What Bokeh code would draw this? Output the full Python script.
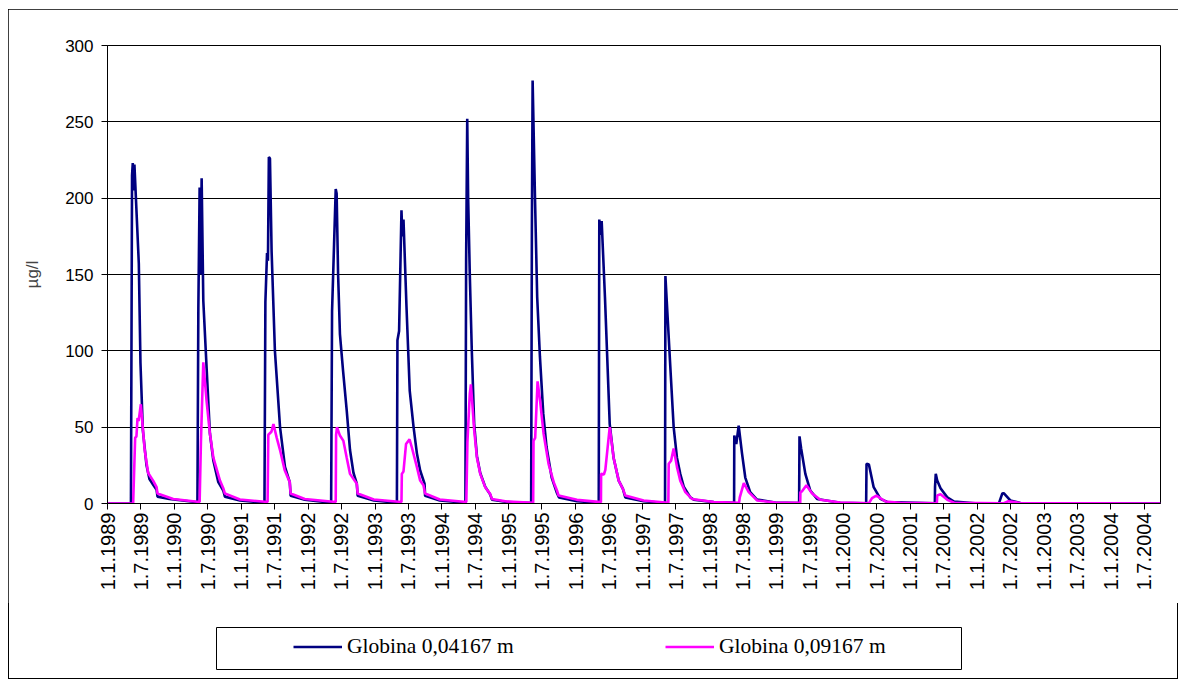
import pandas as pd
from bokeh.plotting import figure
from bokeh.layouts import column
from bokeh.models import FixedTicker, Legend, LegendItem, Range1d, ColumnDataSource
from bokeh.embed import file_html
from bokeh.resources import INLINE

# ---------------- data ----------------
tick_labels = ["1.1.1989", "1.7.1989", "1.1.1990", "1.7.1990", "1.1.1991", "1.7.1991",
               "1.1.1992", "1.7.1992", "1.1.1993", "1.7.1993", "1.1.1994", "1.7.1994",
               "1.1.1995", "1.7.1995", "1.1.1996", "1.7.1996", "1.1.1997", "1.7.1997",
               "1.1.1998", "1.7.1998", "1.1.1999", "1.7.1999", "1.1.2000", "1.7.2000",
               "1.1.2001", "1.7.2001", "1.1.2002", "1.7.2002", "1.1.2003", "1.7.2003",
               "1.1.2004", "1.7.2004"]
y_ticks = [0, 50, 100, 150, 200, 250, 300]
x_start = "1989-01-01"
x_end = "2004-09-28"

blue_dates = [
    "1989-01-01", "1989-05-09", "1989-05-15", "1989-05-19", "1989-05-23", "1989-05-28", "1989-06-21",
    "1989-06-30", "1989-07-13", "1989-08-02", "1989-08-18", "1989-09-09", "1989-09-26", "1989-10-01",
    "1989-12-05",
    "1990-05-07", "1990-05-12", "1990-05-19", "1990-05-24", "1990-05-30", "1990-06-08", "1990-06-26",
    "1990-07-14", "1990-08-02", "1990-08-29", "1990-09-25", "1990-10-04", "1990-12-25",
    "1991-05-08", "1991-05-13", "1991-05-22", "1991-05-27", "1991-06-01", "1991-06-07", "1991-06-16",
    "1991-07-04", "1991-08-01", "1991-08-28", "1991-09-23", "1991-09-28", "1991-12-14",
    "1992-05-06", "1992-05-11", "1992-05-22", "1992-05-31", "1992-06-05", "1992-06-13", "1992-06-23",
    "1992-07-10", "1992-07-30", "1992-08-17", "1992-09-05", "1992-09-23", "1992-09-28", "1992-12-25",
    "1993-04-30", "1993-05-03", "1993-05-12", "1993-05-25", "1993-05-30", "1993-06-05", "1993-06-21",
    "1993-07-09", "1993-07-30", "1993-08-17", "1993-09-04", "1993-09-28", "1993-10-01", "1993-12-20",
    "1994-05-09", "1994-05-13", "1994-05-19", "1994-05-24", "1994-06-02", "1994-06-13", "1994-06-26",
    "1994-07-11", "1994-07-29", "1994-08-25", "1994-09-21", "1994-10-01", "1994-12-21",
    "1995-05-03", "1995-05-07", "1995-05-11", "1995-05-24", "1995-06-05", "1995-06-20", "1995-07-08",
    "1995-07-26", "1995-08-23", "1995-09-19", "1995-10-02",
    "1996-01-08", "1996-05-06", "1996-05-09", "1996-05-16", "1996-05-22", "1996-06-09", "1996-06-20",
    "1996-07-05", "1996-07-26", "1996-08-23", "1996-09-15", "1996-09-28",
    "1997-01-06", "1997-05-03", "1997-05-05", "1997-05-18", "1997-06-01", "1997-06-19", "1997-07-07",
    "1997-07-25", "1997-08-13", "1997-09-18", "1997-10-07",
    "1998-01-24", "1998-05-15", "1998-05-16", "1998-05-27", "1998-06-09", "1998-06-27", "1998-07-15",
    "1998-08-11", "1998-09-17", "1998-12-25",
    "1999-05-05", "1999-05-07", "1999-05-16", "1999-06-08", "1999-07-05", "1999-08-11", "1999-12-15",
    "2000-05-05", "2000-05-07", "2000-05-20", "2000-06-15", "2000-07-22", "2000-08-28",
    "2001-05-15", "2001-05-16", "2001-05-20", "2001-05-28", "2001-06-15", "2001-07-22", "2001-08-28",
    "2001-12-22",
    "2002-04-30", "2002-05-18", "2002-05-26", "2002-07-01", "2002-08-25",
    "2004-09-28",
]
blue_values = [
    0, 0, 215, 223, 205, 222, 157,
    92, 48, 25, 16, 12, 9, 4.5,
    3,
    0.8, 128, 207, 150, 213, 133, 89,
    46, 28, 14, 8.5, 4.5, 2,
    0.5, 132, 164, 159, 227, 226, 165,
    100, 50, 24, 14, 5, 2.5,
    0.5, 126, 170, 206, 203, 150, 111,
    87, 61, 35, 20, 13, 5, 2,
    0.5, 107, 113, 192, 175, 186, 130,
    74, 50, 33, 21.6, 13, 5, 2,
    0.5, 160, 252, 200, 150, 100, 52,
    31, 20, 11, 6, 2.5, 1,
    0.3, 180, 277, 200, 135, 96, 59,
    37, 17, 7.4, 4,
    1.5, 0.5, 186, 176, 185, 135, 100,
    52, 30, 15, 9.6, 4,
    1.5, 0.3, 149, 120, 89, 50, 30,
    19.4, 11, 4, 2.5,
    0.9, 0.5, 44.5, 39, 51, 33, 17,
    7.4, 2.6, 0.7,
    0.3, 44, 36, 19.4, 8.5, 3, 0.5,
    0.2, 26, 25.5, 10.7, 3, 1,
    0.2, 11, 19.4, 15, 10, 4, 1.3,
    0.2,
    0.2, 6.5, 6.8, 2, 0.3,
    0,
]

magenta_dates = [
    "1989-01-01", "1989-05-21", "1989-06-01", "1989-06-08", "1989-06-14", "1989-06-20", "1989-07-02",
    "1989-07-23", "1989-08-11", "1989-09-07", "1989-09-26", "1989-10-01", "1989-12-26",
    "1990-05-19", "1990-05-26", "1990-06-08", "1990-06-26", "1990-07-14", "1990-08-02", "1990-09-07",
    "1990-09-25", "1990-10-04", "1990-12-25",
    "1991-05-25", "1991-05-29", "1991-06-15", "1991-06-26", "1991-07-14", "1991-08-01", "1991-08-26",
    "1991-09-23", "1991-09-28", "1991-12-14",
    "1992-05-31", "1992-06-02", "1992-06-07", "1992-06-23", "1992-07-12", "1992-07-30", "1992-08-17",
    "1992-09-23", "1992-09-28", "1992-12-25",
    "1993-05-25", "1993-05-27", "1993-06-05", "1993-06-19", "1993-07-08", "1993-07-20", "1993-08-17",
    "1993-09-04", "1993-09-22", "1993-10-01", "1993-12-20",
    "1994-05-14", "1994-05-20", "1994-06-02", "1994-06-08", "1994-06-16", "1994-06-26", "1994-07-11",
    "1994-07-29", "1994-08-25", "1994-09-21", "1994-10-01", "1994-12-21",
    "1995-05-14", "1995-05-16", "1995-05-25", "1995-06-07", "1995-06-21", "1995-07-10", "1995-08-06",
    "1995-09-03", "1995-09-21", "1995-09-30",
    "1996-01-08", "1996-05-18", "1996-05-19", "1996-06-03", "1996-06-11", "1996-07-05", "1996-07-26",
    "1996-08-23", "1996-09-15", "1996-09-28",
    "1997-01-06", "1997-05-21", "1997-05-23", "1997-06-05", "1997-06-19", "1997-07-07", "1997-07-25",
    "1997-08-22", "1997-09-27",
    "1998-01-24", "1998-06-11", "1998-06-15", "1998-07-07", "1998-08-03", "1998-09-17", "1998-12-25",
    "1999-05-11", "1999-05-12", "1999-05-21", "1999-06-14", "1999-07-15", "1999-08-29", "1999-12-15",
    "2000-05-20", "2000-06-06", "2000-06-30", "2000-08-19", "2000-11-07",
    "2001-05-26", "2001-05-28", "2001-06-15", "2001-07-22", "2001-08-28",
    "2002-05-24", "2002-06-20", "2002-08-25",
    "2004-09-28",
]
magenta_values = [
    0, 0, 43, 44, 56, 54, 65,
    35, 20, 15, 10.7, 6.5, 3,
    1, 40, 92.5, 67, 46, 30, 15,
    10, 6.5, 2.6,
    1, 45, 47, 52, 43, 35, 22,
    14, 6.5, 3,
    1, 45, 50, 44.5, 41, 30, 19.4,
    13, 6.5, 2.6,
    1, 19.4, 21, 39, 42, 37, 24,
    15, 12, 6.5, 2.6,
    1, 40, 72, 78, 65, 48, 30,
    19.4, 10.7, 6.3, 3, 1.3,
    0.5, 41, 43, 80, 67, 45.6, 26,
    14, 8.5, 5.2,
    2.4, 0.9, 19.4, 19, 22, 50, 30,
    15, 9.6, 5.2,
    2, 0.5, 26, 28, 36, 24, 15,
    7.4, 3,
    1, 0.5, 4, 13.3, 7.4, 2, 0.7,
    0.4, 7.4, 8, 12, 6.5, 2.5, 0.7,
    0.2, 3.5, 5.2, 1.3, 0.4,
    0.2, 5.2, 6, 2.4, 0.5,
    0.1, 1.5, 0.3,
    0,
]

series_names = ["Globina 0,04167 m", "Globina 0,09167 m"]
series_colors = ["#000080", "#FF00FF"]
y_label = "µg/l"

# ---------------- helpers ----------------
t0 = pd.Timestamp(x_start)
def to_days(dates):
    return [(pd.Timestamp(d) - t0).days for d in dates]

tick_days = [(pd.to_datetime(t, format="%d.%m.%Y") - t0).days for t in tick_labels]

src_b = ColumnDataSource(dict(x=to_days(blue_dates), y=blue_values))
src_m = ColumnDataSource(dict(x=to_days(magenta_dates), y=magenta_values))

BORDER_L, BORDER_R = 99, 18

# ---------------- main chart ----------------
p = figure(width=1170, height=594, output_backend="svg", toolbar_location=None,
           x_range=Range1d(0, (pd.Timestamp(x_end) - t0).days),
           y_range=Range1d(0, 300), align="start")
p.min_border_left = BORDER_L
p.min_border_right = BORDER_R
p.min_border_top = 36
p.min_border_bottom = 100
p.background_fill_color = "white"
p.border_fill_color = "white"
p.outline_line_color = "black"
p.outline_line_width = 1

p.line("x", "y", source=src_b, line_color=series_colors[0], line_width=2.6)
p.line("x", "y", source=src_m, line_color=series_colors[1], line_width=2.6)

xa = p.xaxis[0]
xa.ticker = FixedTicker(ticks=tick_days)
xa.major_label_overrides = {d: lab for d, lab in zip(tick_days, tick_labels)}
xa.major_label_orientation = 3.14159265 / 2
xa.major_label_text_font = "Liberation Sans"
xa.major_label_text_font_size = "20px"
xa.major_label_text_color = "black"
xa.major_label_standoff = 3
xa.major_tick_out = 6
xa.major_tick_in = 0
xa.minor_tick_out = 0
xa.minor_tick_in = 0
xa.axis_line_color = "black"
xa.major_tick_line_color = "black"

ya = p.yaxis[0]
ya.ticker = FixedTicker(ticks=y_ticks)
ya.major_label_text_font = "Liberation Sans"
ya.major_label_text_font_size = "17px"
ya.major_label_text_color = "black"
ya.major_label_standoff = 8
ya.major_tick_out = 6
ya.major_tick_in = 0
ya.minor_tick_out = 0
ya.minor_tick_in = 0
ya.axis_line_color = "black"
ya.major_tick_line_color = "black"
ya.axis_label = y_label
ya.axis_label_text_font = "Liberation Sans"
ya.axis_label_text_font_size = "17px"
ya.axis_label_text_font_style = "normal"
ya.axis_label_standoff = 20

p.xgrid.grid_line_color = None
p.ygrid.grid_line_color = "black"
p.ygrid.grid_line_width = 1

# ---------------- legend box ----------------
# The column aligns the frames of its plots, so the legend plot gets the same
# side borders as the main chart; its frame (745 px wide) is the legend box.
p2 = figure(width=745 + BORDER_L + BORDER_R, height=43, output_backend="svg",
            toolbar_location=None, x_range=Range1d(0, 1), y_range=Range1d(1000, 1001),
            margin=(24, 0, 9, 208 - BORDER_L), min_border=0, align="start")
p2.min_border_left = BORDER_L
p2.min_border_right = BORDER_R
p2.axis.visible = False
p2.grid.visible = False
p2.outline_line_color = "black"
p2.outline_line_width = 1
p2.background_fill_color = "white"
p2.border_fill_color = "white"
# sample renderers share the chart's data, kept out of view by the y range
lr1 = p2.line("x", "y", source=src_b, line_color=series_colors[0], line_width=2.6)
lr2 = p2.line("x", "y", source=src_m, line_color=series_colors[1], line_width=2.6)
legend = Legend(items=[LegendItem(label=series_names[0], renderers=[lr1]),
                       LegendItem(label=series_names[1], renderers=[lr2])],
                orientation="horizontal", location=(77, 11),
                glyph_width=49, glyph_height=21, label_height=21, label_standoff=5,
                spacing=0, padding=0, margin=0,
                label_width=318, label_text_font="Liberation Serif",
                label_text_font_size="21.5px", label_text_color="black",
                border_line_alpha=0, background_fill_alpha=0)
p2.add_layout(legend)

layout = column(p, p2, margin=(9, 0, 0, 8), spacing=0, align="start",
                styles={"outline": "1px solid black", "outline-offset": "-1px"})

open("out.html", "w").write(file_html(layout, INLINE))
